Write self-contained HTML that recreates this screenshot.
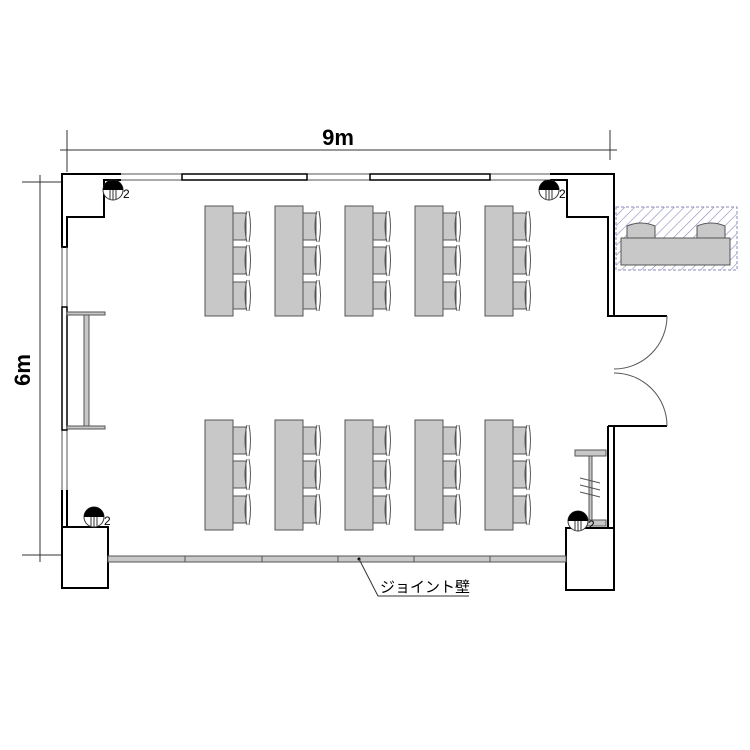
<!DOCTYPE html><html><head><meta charset="utf-8"><style>body{margin:0;background:#fff}svg{display:block}</style></head><body>
<svg width="750" height="750" viewBox="0 0 750 750" xmlns="http://www.w3.org/2000/svg">
<defs>
<pattern id="h" width="7" height="7" patternUnits="userSpaceOnUse" patternTransform="rotate(45)"><line x1="0" y1="0" x2="0" y2="7" stroke="#8888bb" stroke-width="1.2"/></pattern>
<g id="tb">
<rect x="0" y="0" width="28" height="110" fill="#c8c8c8" stroke="#555" stroke-width="1"/>
<g id="ch"><rect x="28" y="7" width="13" height="27" fill="#c8c8c8" stroke="#555" stroke-width="1"/>
<path d="M42,5 Q38,20 42,36 M44,5 Q47,20 44,36" fill="none" stroke="#555" stroke-width="1"/></g>
<use href="#ch" y="34"/><use href="#ch" y="69"/>
</g>
<g id="pl"><circle r="10" fill="#fff" stroke="#333" stroke-width="1"/><path d="M-10,0 A10,10 0 0 1 10,0 Z" fill="#000"/><line x1="-3" y1="0" x2="-3" y2="9" stroke="#333"/><line x1="3" y1="0" x2="3" y2="9" stroke="#333"/><line x1="0" y1="0" x2="0" y2="10" stroke="#333"/></g>
</defs>
<g stroke="#333" stroke-width="1" fill="none">
<line x1="67" y1="130" x2="67" y2="172"/><line x1="610" y1="130" x2="610" y2="160"/><line x1="60" y1="150" x2="617" y2="150"/>
<line x1="22" y1="182" x2="62" y2="182"/><line x1="22" y1="555" x2="62" y2="555"/><line x1="40" y1="175" x2="40" y2="562"/>
</g>
<text x="338" y="145" font-family="Liberation Sans,sans-serif" font-size="22" font-weight="bold" text-anchor="middle">9m</text>
<text transform="translate(30,370) rotate(-90)" font-family="Liberation Sans,sans-serif" font-size="22" font-weight="bold" text-anchor="middle">6m</text>
<g stroke="#000" stroke-width="2" fill="none">
<path d="M121,174 L62,174 L62,247 L67,247 L67,217 L104,217 L104,180 L121,180"/>
<path d="M550,174 L614,174 L614,316 L608,316 L608,217 L567,217 L567,180 L550,180"/>
<path d="M614,316 L667,316 M614,426 L667,426"/>
<path d="M608,426 L614,426 L614,528"/>
<path d="M608,426 L608,528"/>
<rect x="62" y="527" width="46" height="61" fill="#fff"/>
<rect x="566" y="528" width="48" height="62" fill="#fff"/>
<path d="M62,490 L62,527 M67,490 L67,527"/>
</g>
<g stroke="#555" stroke-width="1" fill="none">
<path d="M121,174 H550 M121,180 H550"/>
<path d="M62,247 V490 M67,247 V490"/>
<path d="M667,316 A53,53 0 0 1 614,369 M614,373 A53,53 0 0 1 667,426"/>
</g>
<rect x="182" y="174" width="125" height="6" fill="#fff" stroke="#000" stroke-width="1.5"/>
<rect x="370" y="174" width="120" height="6" fill="#fff" stroke="#000" stroke-width="1.5"/>
<rect x="62" y="307" width="5" height="123" fill="#fff" stroke="#000" stroke-width="1.5"/>
<g fill="#c8c8c8" stroke="#555"><rect x="67" y="312" width="38" height="3"/><rect x="67" y="426" width="38" height="3"/><rect x="84" y="315" width="5" height="111"/></g>
<rect x="108" y="556" width="458" height="6" fill="#c8c8c8" stroke="#555"/>
<g stroke="#555"><line x1="185" y1="556" x2="185" y2="562"/><line x1="262" y1="556" x2="262" y2="562"/><line x1="338" y1="556" x2="338" y2="562"/><line x1="414" y1="556" x2="414" y2="562"/><line x1="490" y1="556" x2="490" y2="562"/></g>
<circle cx="359" cy="559" r="1.5" fill="#000"/>
<path d="M359,559 L378,596 L469,596" stroke="#333" fill="none"/>
<text x="380" y="592" font-family="Liberation Sans,Noto Sans CJK JP,sans-serif" font-size="15">ジョイント壁</text>
<rect x="616" y="207" width="121" height="63" fill="url(#h)" stroke="#8888bb" stroke-dasharray="3,2"/>
<path d="M627,239 V226 Q641,220 655,226 V239 Z" fill="#c8c8c8" stroke="#555"/><path d="M697,239 V226 Q711,220 725,226 V239 Z" fill="#c8c8c8" stroke="#555"/>
<rect x="621" y="238" width="109" height="27" fill="#c8c8c8" stroke="#555"/>
<g fill="#c8c8c8" stroke="#555"><rect x="575" y="450" width="31" height="6"/><rect x="575" y="520" width="31" height="6"/><rect x="589" y="456" width="3" height="64"/></g>
<g stroke="#555"><line x1="580" y1="478" x2="600" y2="483"/><line x1="580" y1="485" x2="600" y2="490"/><line x1="580" y1="492" x2="600" y2="497"/></g>
<use href="#tb" x="205" y="206"/><use href="#tb" x="275" y="206"/><use href="#tb" x="345" y="206"/><use href="#tb" x="415" y="206"/><use href="#tb" x="485" y="206"/>
<use href="#tb" x="205" y="420"/><use href="#tb" x="275" y="420"/><use href="#tb" x="345" y="420"/><use href="#tb" x="415" y="420"/><use href="#tb" x="485" y="420"/>
<g font-family="Liberation Sans,sans-serif" font-size="12">
<use href="#pl" x="113" y="190"/><text x="123" y="198">2</text>
<use href="#pl" x="549" y="190"/><text x="559" y="198">2</text>
<use href="#pl" x="94" y="517"/><text x="104" y="525">2</text>
<use href="#pl" x="578" y="521"/><text x="588" y="529">2</text>
</g>
</svg>
</body></html>
